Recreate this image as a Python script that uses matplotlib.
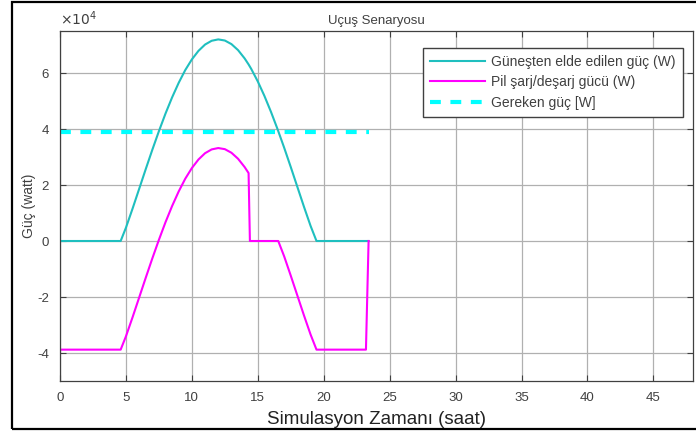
import matplotlib
matplotlib.use("Agg")
import matplotlib.pyplot as plt
from matplotlib.patches import Rectangle

# --- data ---
t_solar = [0, 4.6, 5.0, 5.5, 6.0, 6.5, 7.0, 7.5, 8.0, 8.5, 9.0, 9.5, 10.0, 10.5, 11.0,
           11.5, 12.0, 12.5, 13.0, 13.5, 14.0, 14.3, 14.5, 15.0, 15.5, 16.0, 16.5, 17.0,
           17.5, 18.0, 18.5, 19.0, 19.45, 23.4]
p_solar = [0, 0, 0.475e4, 1.153e4, 1.858e4, 2.565e4, 3.257e4, 3.922e4, 4.551e4, 5.128e4,
           5.649e4, 6.106e4, 6.486e4, 6.791e4, 7.016e4, 7.151e4, 7.2e4, 7.16e4, 7.032e4,
           6.818e4, 6.521e4, 6.306e4, 6.147e4, 5.697e4, 5.182e4, 4.61e4, 3.99e4, 3.33e4,
           2.64e4, 1.931e4, 1.223e4, 0.541e4, 0, 0]

t_batt = [0, 4.6, 5.0, 5.5, 6.0, 6.5, 7.0, 7.5, 8.0, 8.5, 9.0, 9.5, 10.0, 10.5, 11.0,
          11.5, 12.0, 12.5, 13.0, 13.5, 14.0, 14.3, 14.4, 16.55, 17.0, 17.5, 18.0, 18.5,
          19.0, 19.45, 23.2, 23.4]
p_batt = [-3.88e4, -3.88e4, -3.405e4, -2.727e4, -2.022e4, -1.315e4, -0.623e4, 0.042e4,
          0.671e4, 1.248e4, 1.769e4, 2.226e4, 2.606e4, 2.911e4, 3.136e4, 3.271e4, 3.32e4,
          3.28e4, 3.152e4, 2.938e4, 2.641e4, 2.426e4, 0, 0, -0.55e4, -1.24e4, -1.949e4,
          -2.657e4, -3.339e4, -3.88e4, -3.88e4, 0]

t_req = [0, 23.4]
p_req = [3.88e4, 3.88e4]

labels = ["Güneşten elde edilen güç (W)", "Pil şarj/deşarj gücü (W)", "Gereken güç [W]"]
x_ticks = [0, 5, 10, 15, 20, 25, 30, 35, 40, 45]
y_ticks = [-4e4, -2e4, 0, 2e4, 4e4, 6e4]
y_ticklabels = ["-4", "-2", "0", "2", "4", "6"]

plt.rcParams['font.family'] = ['Liberation Sans', 'DejaVu Sans']
txt = '#404040'

fig = plt.figure(figsize=(6.96, 4.33), dpi=100)
fig.patch.set_facecolor('white')
ax = fig.add_axes([60/696, 1 - 381/433, 633/696, 350/433])

ax.plot(t_solar, p_solar, color='#1fbfbf', lw=1.5, label=labels[0])
ax.plot(t_batt, p_batt, color='#ff00ff', lw=1.5, label=labels[1])
ax.plot(t_req, p_req, color='#00ffff', lw=3, ls=(0, (2.6, 2.3)), label=labels[2])

ax.set_xlim(0, 48)
ax.set_ylim(-5e4, 7.5e4)
ax.set_xticks(x_ticks)
ax.set_yticks(y_ticks)
ax.set_yticklabels(y_ticklabels)
ax.grid(True, color='#b0b0b0', lw=0.9)
ax.set_axisbelow(True)
ax.tick_params(direction='in', top=True, right=True, length=4, width=0.8,
               colors='#404040', labelsize=9.5, labelcolor=txt, pad=8)
for s in ax.spines.values():
    s.set_color('#404040')
    s.set_linewidth(0.9)

ax.set_xlabel("Simulasyon Zamanı (saat)", fontsize=13.5, color='#222222', labelpad=5)
ax.set_ylabel("Güç (watt)", fontsize=10, color=txt, labelpad=1)
ax.set_title("Uçuş Senaryosu", fontsize=9.5, color=txt, pad=5)
ax.text(0.0, 1.008, r"$\times10^{4}$", transform=ax.transAxes, fontsize=10,
        color=txt, ha='left', va='bottom')

leg = ax.legend(loc='upper right', bbox_to_anchor=(0.984, 0.951), fontsize=10,
                handlelength=4.0, labelspacing=0.45, borderpad=0.5, handletextpad=0.45,
                fancybox=False, framealpha=1, borderaxespad=0)
leg.get_frame().set_edgecolor('#404040')
leg.get_frame().set_linewidth(1.0)
for t in leg.get_texts():
    t.set_color(txt)

fig.patches.append(Rectangle((11.5/696, 4/433), 1.0, 427.5/433, transform=fig.transFigure,
                             fill=False, edgecolor='black', lw=1.6, figure=fig))

fig.savefig("out.png", dpi=100)
